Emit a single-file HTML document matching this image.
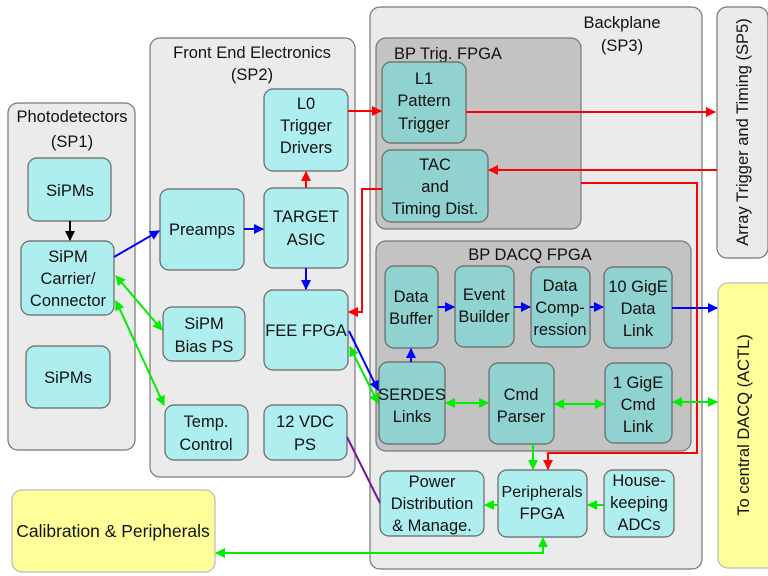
<!DOCTYPE html>
<html><head><meta charset="utf-8"><style>
html,body{margin:0;padding:0;background:#fff;}
svg{display:block;}
text{font-family:"Liberation Sans",sans-serif;font-size:16.5px;fill:#111;text-anchor:middle;}
.g{fill:#ebebeb;stroke:#777;stroke-width:1.2;}
.d{fill:#c3c3c3;stroke:#777;stroke-width:1.2;}
.c{fill:#aeeeee;stroke:#666;stroke-width:1.2;}
.t{fill:#8fd2d0;stroke:#666;stroke-width:1.2;}
.y{fill:#ffff99;stroke:#bbb;stroke-width:1.2;}
.r{stroke:#f00;stroke-width:2;fill:none;}
.b{stroke:#00f;stroke-width:2;fill:none;}
.gr{stroke:#0e0;stroke-width:2;fill:none;}
</style></head><body>
<svg width="768" height="576" viewBox="0 0 768 576" xmlns="http://www.w3.org/2000/svg">
<defs>
<marker id="ar" markerWidth="10" markerHeight="10" refX="9" refY="5" orient="auto" markerUnits="userSpaceOnUse"><path d="M0,0 L10,5 L0,10 z" fill="#f00"/></marker>
<marker id="ab" markerWidth="10" markerHeight="10" refX="9" refY="5" orient="auto" markerUnits="userSpaceOnUse"><path d="M0,0 L10,5 L0,10 z" fill="#00f"/></marker>
<marker id="ag" markerWidth="10" markerHeight="10" refX="9" refY="5" orient="auto" markerUnits="userSpaceOnUse"><path d="M0,0 L10,5 L0,10 z" fill="#0e0"/></marker>
<marker id="ags" markerWidth="10" markerHeight="10" refX="1" refY="5" orient="auto" markerUnits="userSpaceOnUse"><path d="M10,0 L0,5 L10,10 z" fill="#0e0"/></marker>
<marker id="ak" markerWidth="10" markerHeight="10" refX="9" refY="5" orient="auto" markerUnits="userSpaceOnUse"><path d="M0,0 L10,5 L0,10 z" fill="#000"/></marker>
</defs>

<rect class="g" x="8" y="103" width="127" height="347" rx="10"/>
<text x="72" y="122">Photodetectors</text><text x="72" y="147">(SP1)</text>
<rect class="g" x="150" y="38" width="205" height="439" rx="10"/>
<text x="252" y="58">Front End Electronics</text><text x="252" y="80">(SP2)</text>
<rect class="g" x="370" y="7" width="332" height="562" rx="10"/>
<text x="622" y="28">Backplane</text><text x="622" y="51">(SP3)</text>
<rect class="d" x="376" y="38" width="205" height="191" rx="10"/>
<text x="448" y="59">BP Trig. FPGA</text>
<rect class="d" x="376" y="241" width="315" height="210" rx="10"/>
<text x="530" y="260">BP  DACQ FPGA</text>
<rect class="g" x="717" y="7" width="51" height="251" rx="10"/>
<text transform="translate(748,132) rotate(-90)">Array Trigger and Timing (SP5)</text>
<rect class="y" x="718" y="283" width="60" height="285" rx="10"/>
<text transform="translate(749,425) rotate(-90)">To central DACQ (ACTL)</text>
<rect class="y" x="12" y="490" width="203" height="82" rx="10"/>
<text x="113" y="537" style="font-size:17.5px">Calibration &amp; Peripherals</text>

<rect class="c" x="28" y="158" width="83" height="63" rx="9"/><text x="70" y="196">SiPMs</text>
<rect class="c" x="21" y="241" width="93" height="74" rx="9"/>
<text x="68" y="262">SiPM</text><text x="68" y="284">Carrier/</text><text x="68" y="306">Connector</text>
<rect class="c" x="26" y="346" width="84" height="62" rx="9"/><text x="68" y="383">SiPMs</text>

<rect class="c" x="264" y="89" width="84" height="82" rx="9"/>
<text x="306" y="109">L0</text><text x="306" y="131">Trigger</text><text x="306" y="153">Drivers</text>
<rect class="c" x="160" y="189" width="84" height="81" rx="9"/><text x="202" y="235">Preamps</text>
<rect class="c" x="264" y="188" width="84" height="80" rx="9"/>
<text x="306" y="222">TARGET</text><text x="306" y="245">ASIC</text>
<rect class="c" x="264" y="290" width="84" height="80" rx="9"/><text x="306" y="336">FEE FPGA</text>
<rect class="c" x="163" y="307" width="82" height="54" rx="9"/>
<text x="204" y="329">SiPM</text><text x="204" y="352">Bias PS</text>
<rect class="c" x="165" y="405" width="83" height="55" rx="9"/>
<text x="206" y="427">Temp.</text><text x="206" y="450">Control</text>
<rect class="c" x="264" y="405" width="83" height="55" rx="9"/>
<text x="305" y="427">12 VDC</text><text x="305" y="450">PS</text>

<rect class="t" x="382" y="62" width="84" height="81" rx="9"/>
<text x="424" y="84">L1</text><text x="424" y="106">Pattern</text><text x="424" y="129">Trigger</text>
<rect class="t" x="382" y="150" width="106" height="72" rx="9"/>
<text x="435" y="170">TAC</text><text x="435" y="192">and</text><text x="435" y="214">Timing Dist.</text>
<rect class="t" x="385" y="266" width="53" height="82" rx="9"/>
<text x="411" y="302">Data</text><text x="411" y="324">Buffer</text>
<rect class="t" x="455" y="266" width="59" height="81" rx="9"/>
<text x="484" y="300">Event</text><text x="484" y="322">Builder</text>
<rect class="t" x="531" y="267" width="59" height="80" rx="9"/>
<text x="560" y="291">Data</text><text x="560" y="313">Comp-</text><text x="560" y="335">ression</text>
<rect class="t" x="604" y="267" width="68" height="81" rx="9"/>
<text x="638" y="292">10 GigE</text><text x="638" y="314">Data</text><text x="638" y="336">Link</text>
<rect class="t" x="379" y="362" width="66" height="82" rx="9"/>
<text x="412" y="400">SERDES</text><text x="412" y="422">Links</text>
<rect class="t" x="489" y="363" width="65" height="81" rx="9"/>
<text x="521" y="400">Cmd</text><text x="521" y="422">Parser</text>
<rect class="t" x="605" y="363" width="67" height="80" rx="9"/>
<text x="638" y="388">1 GigE</text><text x="638" y="410">Cmd</text><text x="638" y="432">Link</text>
<rect class="c" x="380" y="471" width="104" height="65" rx="9"/>
<text x="432" y="487">Power</text><text x="432" y="509">Distribution</text><text x="432" y="531">&amp; Manage.</text>
<rect class="c" x="498" y="470" width="89" height="67" rx="9"/>
<text x="542" y="497" style="font-size:16px">Peripherals</text><text x="542" y="519">FPGA</text>
<rect class="c" x="604" y="470" width="70" height="67" rx="9"/>
<text x="639" y="486">House-</text><text x="639" y="508">keeping</text><text x="639" y="530">ADCs</text>

<line x1="70" y1="221" x2="70" y2="240" stroke="#000" stroke-width="2" marker-end="url(#ak)"/>
<line class="b" x1="114" y1="257" x2="159" y2="231" marker-end="url(#ab)"/>
<line class="b" x1="244" y1="229" x2="263" y2="229" marker-end="url(#ab)"/>
<line class="r" x1="306" y1="188" x2="306" y2="172" marker-end="url(#ar)"/>
<line class="b" x1="306" y1="268" x2="306" y2="289" marker-end="url(#ab)"/>
<line class="r" x1="348" y1="111" x2="381" y2="111" marker-end="url(#ar)"/>
<line class="r" x1="466" y1="112" x2="715" y2="112" marker-end="url(#ar)"/>
<line class="r" x1="717" y1="170" x2="489" y2="170" marker-end="url(#ar)"/>
<polyline class="r" points="382,189 362,189 362,312 349,312" marker-end="url(#ar)"/>
<polyline class="r" points="581,183 697,183 697,453 548,453 548,469" marker-end="url(#ar)"/>
<line class="gr" x1="116" y1="276" x2="162" y2="330" marker-start="url(#ags)" marker-end="url(#ag)"/>
<line class="gr" x1="116" y1="301" x2="164" y2="405" marker-start="url(#ags)" marker-end="url(#ag)"/>
<line class="b" x1="349" y1="331" x2="378" y2="390" marker-end="url(#ab)"/>
<line class="gr" x1="350" y1="347" x2="378" y2="403" marker-start="url(#ags)" marker-end="url(#ag)"/>
<line class="b" x1="411" y1="362" x2="411" y2="349" marker-end="url(#ab)"/>
<line class="b" x1="438" y1="307" x2="454" y2="307" marker-end="url(#ab)"/>
<line class="b" x1="514" y1="307" x2="530" y2="307" marker-end="url(#ab)"/>
<line class="b" x1="590" y1="307" x2="603" y2="307" marker-end="url(#ab)"/>
<line class="b" x1="672" y1="308" x2="717" y2="308" marker-end="url(#ab)"/>
<line class="gr" x1="446" y1="403" x2="488" y2="403" marker-start="url(#ags)" marker-end="url(#ag)"/>
<line class="gr" x1="555" y1="404" x2="604" y2="404" marker-start="url(#ags)" marker-end="url(#ag)"/>
<line class="gr" x1="673" y1="402" x2="717" y2="402" marker-start="url(#ags)" marker-end="url(#ag)"/>
<line class="gr" x1="533" y1="444" x2="533" y2="469" marker-end="url(#ag)"/>
<line x1="347" y1="437" x2="380" y2="503" stroke="#7a1a9a" stroke-width="2"/>
<line class="gr" x1="498" y1="505" x2="485" y2="505" marker-end="url(#ag)"/>
<line class="gr" x1="604" y1="505" x2="588" y2="505" marker-end="url(#ag)"/>
<polyline class="gr" points="543,540 543,553 216,553" marker-end="url(#ag)"/>
<path d="M543,537 L538,547 L548,547 z" fill="#0e0"/>
</svg>
</body></html>
